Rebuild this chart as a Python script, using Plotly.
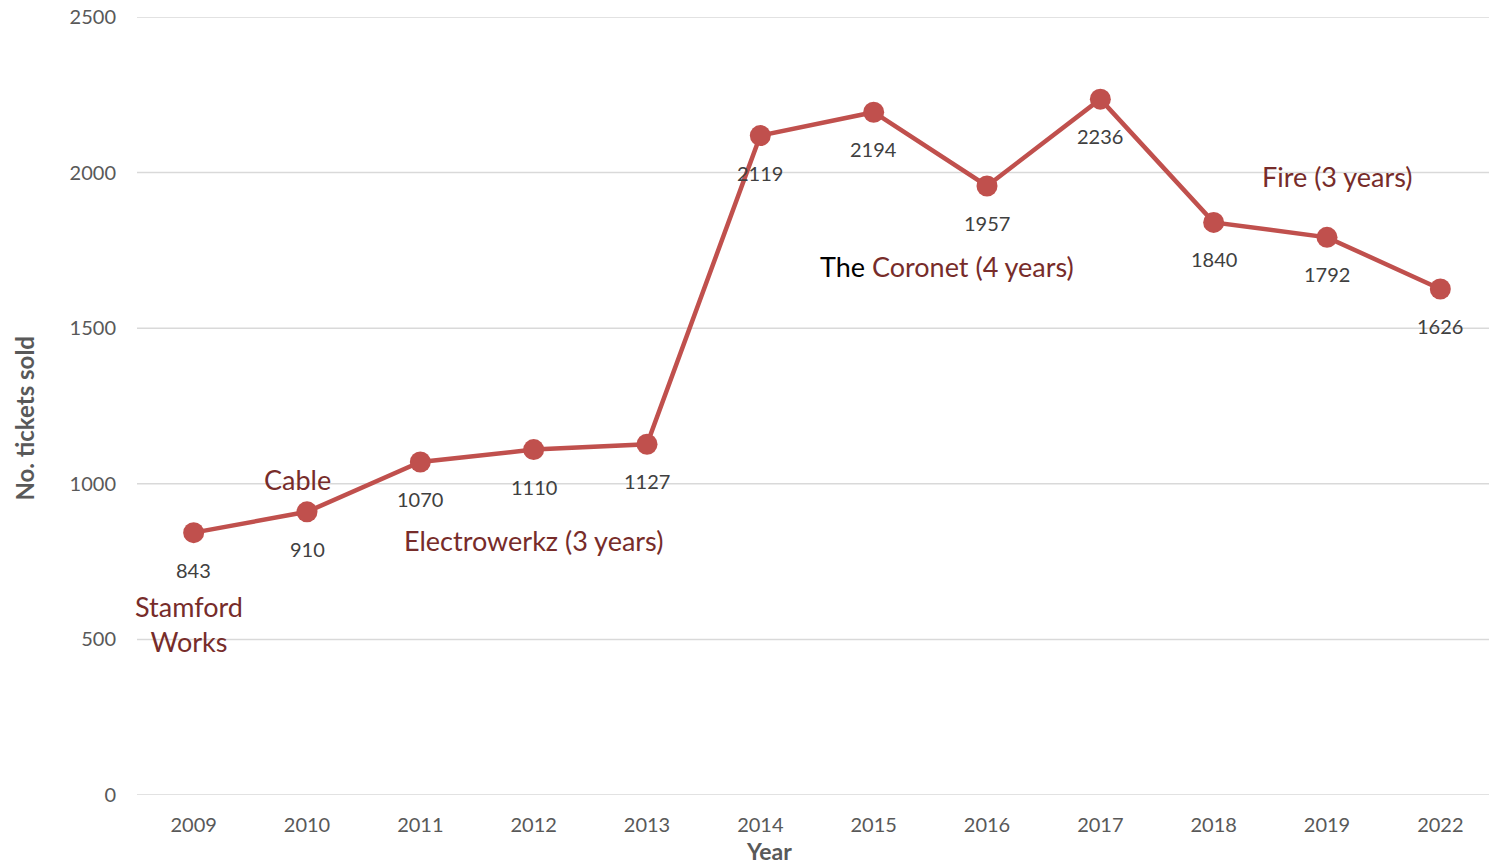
import plotly.graph_objects as go

years = ["2009", "2010", "2011", "2012", "2013", "2014", "2015", "2016", "2017", "2018", "2019", "2022"]
tickets = [843, 910, 1070, 1110, 1127, 2119, 2194, 1957, 2236, 1840, 1792, 1626]

venue_labels = ["Stamford<br>Works", "Cable", "Electrowerkz (3 years)",
                "<span style='color:#000000'>The</span> Coronet (4 years)", "Fire (3 years)"]
venue_x = [-0.04, 0.92, 3.0, 6.65, 10.09]
venue_y = [549, 1015, 819, 1697, 1989]

y_ticks = [0, 500, 1000, 1500, 2000, 2500]

FONT = "Lato, 'Open Sans', sans-serif"
LINE = "#C0504D"
VENUE = "#772C2A"

fig = go.Figure()
fig.add_trace(go.Scatter(
    x=list(range(len(years))), y=tickets, mode="lines+markers",
    line=dict(color=LINE, width=4.5),
    marker=dict(color=LINE, size=21),
    hoverinfo="skip", showlegend=False,
))

for v in y_ticks:
    fig.add_shape(type="line", xref="paper", x0=0, x1=1, yref="y", y0=v, y1=v,
                  line=dict(color="#D9D9D9", width=1.5), layer="below")

annotations = []
for i, v in enumerate(tickets):
    annotations.append(dict(x=i, y=v, text=str(v), showarrow=False, yshift=-37,
                            font=dict(family=FONT, size=20, color="#404040")))
for t, x, y in zip(venue_labels, venue_x, venue_y):
    annotations.append(dict(x=x, y=y, text=t, showarrow=False,
                            font=dict(family=FONT, size=27, color=VENUE)))
annotations.append(dict(xref="paper", yref="paper", x=0.465, y=-0.072, text="<b>Year</b>",
                        xanchor="center", yanchor="middle",
                        showarrow=False, font=dict(family=FONT, size=23, color="#595959")))
annotations.append(dict(xref="paper", yref="paper", x=-0.0824, y=0.485, text="<b>No. tickets sold</b>",
                        xanchor="center", yanchor="middle",
                        textangle=-90, showarrow=False, font=dict(family=FONT, size=24, color="#595959")))

fig.update_layout(
    width=1489, height=856,
    margin=dict(l=129, r=0, t=9, b=69, autoexpand=False),
    paper_bgcolor="white", plot_bgcolor="white",
    font=dict(family=FONT, size=20, color="#595959"),
    annotations=annotations,
    xaxis=dict(range=[-0.5, len(years) - 0.5], tickvals=list(range(len(years))), ticktext=years,
               showgrid=False, zeroline=False, showline=False, ticks="", automargin=False,
               ticklabelstandoff=16, tickfont=dict(size=20, color="#595959")),
    yaxis=dict(range=[0, 2500], tickvals=y_ticks, showgrid=False, automargin=False,
               zeroline=False, showline=False, ticks="", ticklabelstandoff=20,
               ticklabeloverflow="allow",
               tickfont=dict(size=20, color="#595959")),
)

fig.write_html("out.html")
